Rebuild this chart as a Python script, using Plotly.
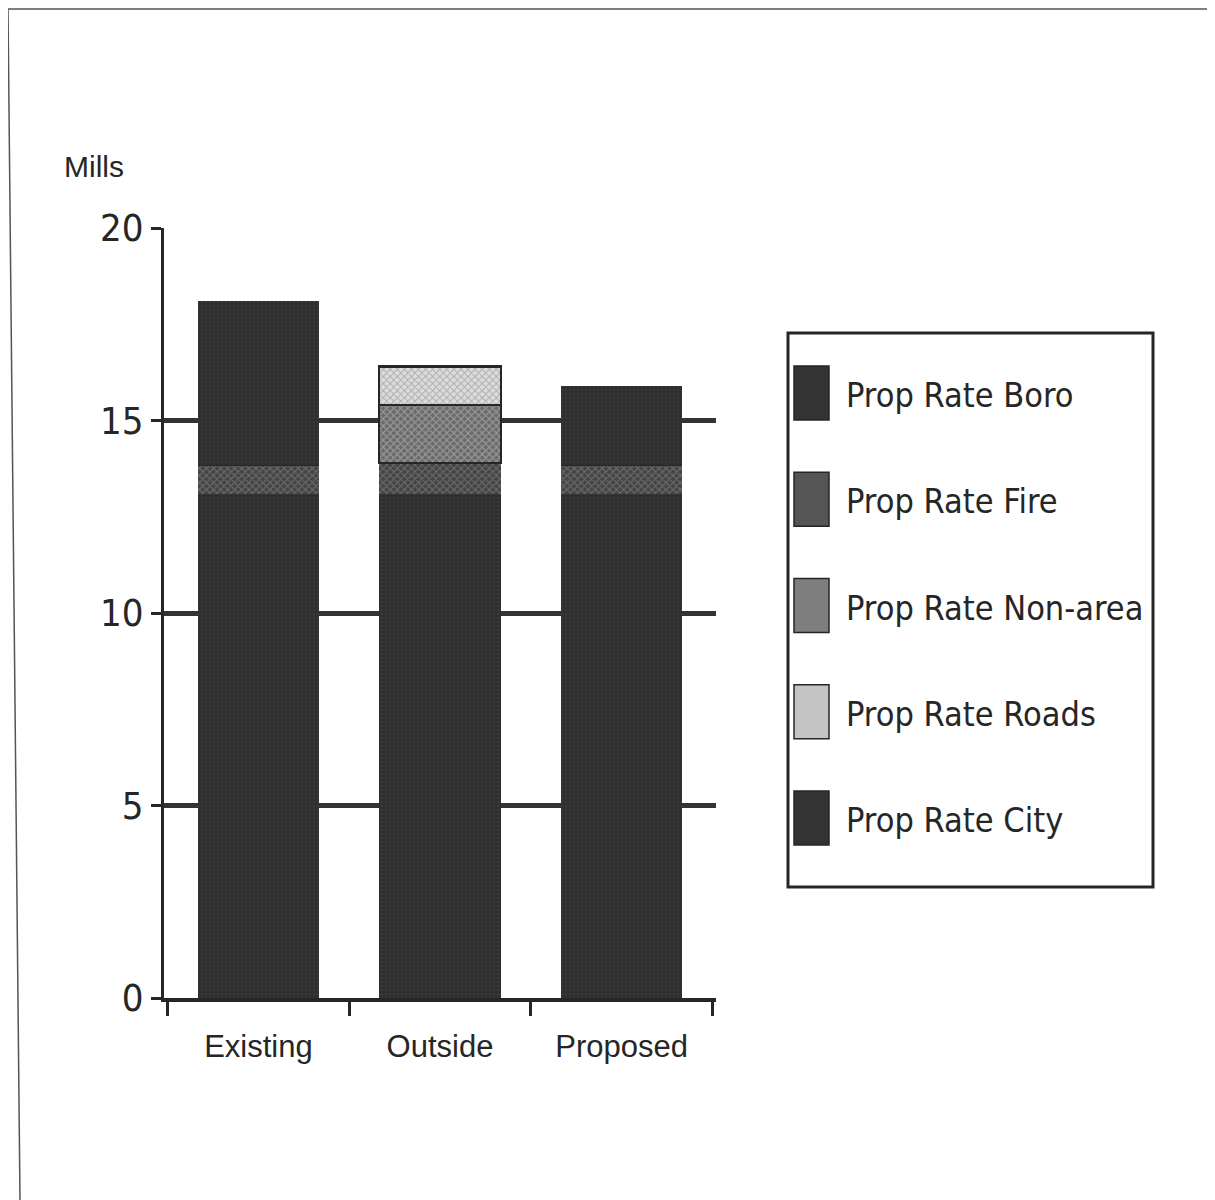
import plotly.graph_objects as go

categories = ["Existing", "Outside", "Proposed"]
prop_rate_city = [13.1, 13.1, 13.1]
prop_rate_fire = [0.75, 0.8, 0.75]
prop_rate_non_area = [0, 1.5, 0]
prop_rate_roads = [0, 1.0, 0]
prop_rate_boro = [4.25, 0, 2.05]
y_ticks = [0, 5, 10, 15, 20]
legend_names = ["Prop Rate Boro", "Prop Rate Fire", "Prop Rate Non-area", "Prop Rate Roads", "Prop Rate City"]

NARROW = "Liberation Sans Narrow, Arial Narrow, DejaVu Sans Condensed, sans-serif"
SANS = "Liberation Sans, Arial, Helvetica, sans-serif"
INK = "#262626"

# the page body adds an 8px offset
OFF = 8
W, H = 1207, 1192
L, R, T, B = 164 - OFF, 1215 - 716, 228 - OFF, 1200 - 998
PW, PH = W - L - R, H - T - B


def px(xp):
    return (xp - OFF - L) / PW


def py(yp):
    return (H - B - (yp - OFF)) / PH


styles = {
    "Prop Rate City": dict(color="#2f2f2f", pattern=dict(shape=".", fgcolor="#555555", size=4, solidity=0.15), line=dict(width=0)),
    "Prop Rate Fire": dict(color="#454545", pattern=dict(shape="x", fgcolor="#9a9a9a", size=5, solidity=0.35), line=dict(width=0)),
    "Prop Rate Non-area": dict(color="#6a6a6a", pattern=dict(shape="x", fgcolor="#c8c8c8", size=5, solidity=0.4), line=dict(width=2.5, color=INK)),
    "Prop Rate Roads": dict(color="#dcdcdc", pattern=dict(shape="x", fgcolor="#7a7a7a", size=5, solidity=0.35), line=dict(width=2.5, color=INK)),
    "Prop Rate Boro": dict(color="#2f2f2f", pattern=dict(shape=".", fgcolor="#555555", size=4, solidity=0.15), line=dict(width=0)),
}
swatch_fill = {
    "Prop Rate Boro": "#333333",
    "Prop Rate Fire": "#555555",
    "Prop Rate Non-area": "#7e7e7e",
    "Prop Rate Roads": "#c4c4c4",
    "Prop Rate City": "#333333",
}

stack = [
    ("Prop Rate City", prop_rate_city),
    ("Prop Rate Fire", prop_rate_fire),
    ("Prop Rate Non-area", prop_rate_non_area),
    ("Prop Rate Roads", prop_rate_roads),
    ("Prop Rate Boro", prop_rate_boro),
]

fig = go.Figure()
for name, vals in stack:
    fig.add_trace(go.Bar(x=categories, y=vals, name=name, marker=styles[name], showlegend=False))

fig.update_layout(
    width=W, height=H, autosize=False,
    margin=dict(l=L, r=R, t=T, b=B, pad=0),
    paper_bgcolor="white", plot_bgcolor="white",
    barmode="stack", bargap=0.33,
    showlegend=False,
    font=dict(family=SANS, color=INK),
)
fig.update_xaxes(
    type="category", range=[-0.52, 2.52],
    showline=True, linecolor=INK, linewidth=4,
    ticks="outside", tickson="boundaries", ticklen=14, tickwidth=3, tickcolor=INK,
    tickfont=dict(family=SANS, size=31, color=INK), ticklabelstandoff=18,
    showgrid=False,
)
fig.update_yaxes(
    range=[0, 20], tickvals=y_ticks, ticktext=[str(v) for v in y_ticks],
    showline=True, linecolor=INK, linewidth=3,
    showgrid=True, gridcolor="#333333", gridwidth=4.5, zeroline=False,
    ticks="outside", ticklen=10, tickwidth=3, tickcolor=INK,
    tickfont=dict(family=NARROW, size=38, color=INK),
)

shapes = []
annotations = []

# axis title "Mills"
annotations.append(dict(x=px(62), y=py(166), xref="paper", yref="paper", text="Mills", showarrow=False,
                        xanchor="left", yanchor="middle", font=dict(family=SANS, size=30, color=INK)))

# legend box
shapes.append(dict(type="rect", xref="paper", yref="paper", x0=px(788), x1=px(1153), y0=py(887), y1=py(333),
                   line=dict(color=INK, width=3), fillcolor="rgba(0,0,0,0)"))
first, step = 393, 106.25
for i, name in enumerate(legend_names):
    cy = first + i * step
    shapes.append(dict(type="rect", xref="paper", yref="paper", x0=px(794), x1=px(829), y0=py(cy + 27), y1=py(cy - 27),
                       line=dict(color=INK, width=1.5), fillcolor=swatch_fill[name]))
    annotations.append(dict(x=px(844), y=py(cy + 2), xref="paper", yref="paper", text=name, showarrow=False,
                            xanchor="left", yanchor="middle", font=dict(family=NARROW, size=34, color=INK)))

# scanned page frame
shapes.append(dict(type="line", xref="paper", yref="paper", x0=px(8), y0=py(9), x1=px(1215), y1=py(9),
                   line=dict(color="#555555", width=1.5)))
shapes.append(dict(type="line", xref="paper", yref="paper", x0=px(8), y0=py(9), x1=px(20), y1=py(1200),
                   line=dict(color="#555555", width=1.5)))
shapes.append(dict(type="line", xref="paper", yref="paper", x0=px(0), y0=py(3), x1=px(825), y1=py(3),
                   line=dict(color="#555555", width=1.5)))

fig.update_layout(shapes=shapes, annotations=annotations)
fig.write_html("out.html")
